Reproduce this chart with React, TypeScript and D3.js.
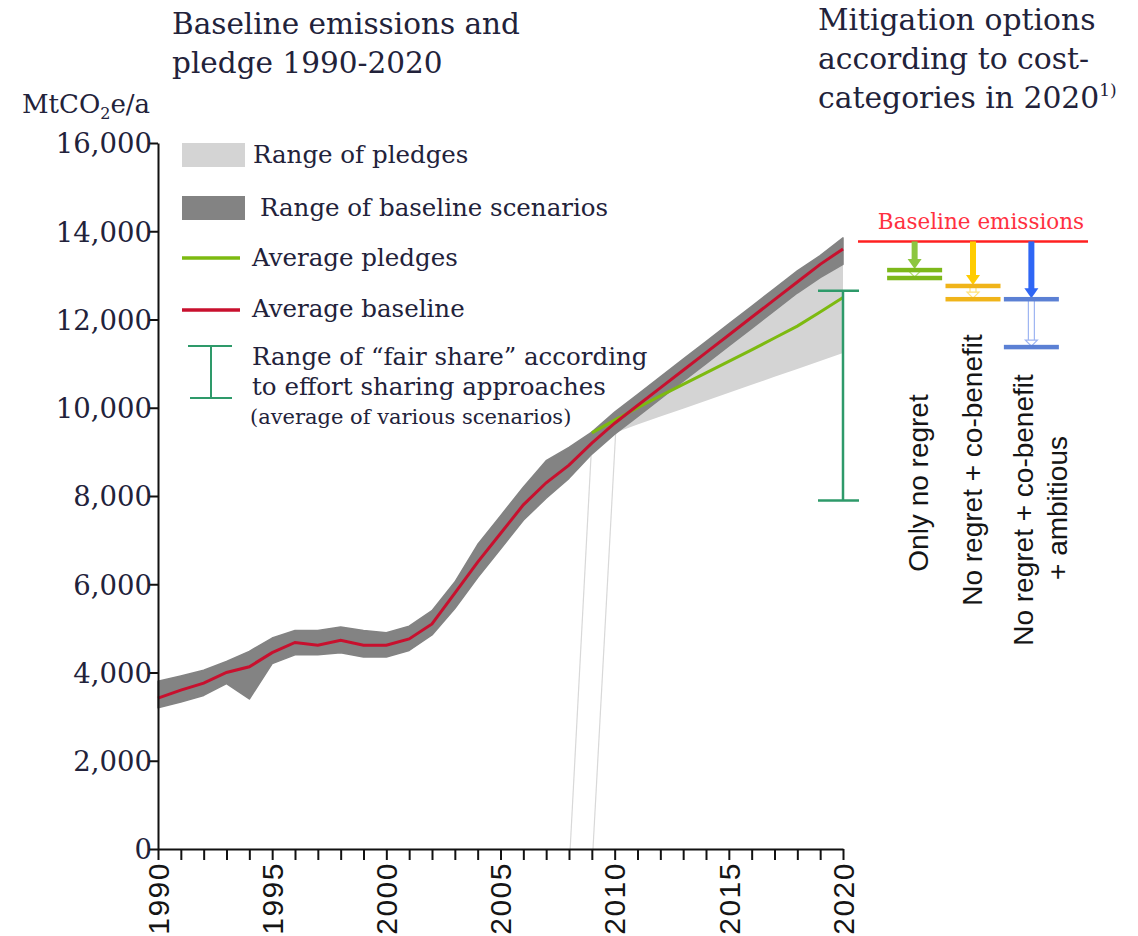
import React, { useEffect, useRef } from "react";
import * as d3 from "d3";

// years 1990-2020
const years = [
  1990, 1991, 1992, 1993, 1994, 1995, 1996, 1997, 1998, 1999, 2000, 2001, 2002,
  2003, 2004, 2005, 2006, 2007, 2008, 2009, 2010, 2011, 2012, 2013, 2014, 2015,
  2016, 2017, 2018, 2019, 2020,
];
const avgBaseline = [
  3420, 3600, 3760, 4000, 4130, 4450, 4680, 4620, 4730, 4620, 4620, 4760, 5100,
  5800, 6500, 7150, 7800, 8300, 8700, 9200, 9650, 10050, 10450, 10850, 11250,
  11650, 12050, 12450, 12850, 13250, 13600,
];
const baselineHigh = [
  3800, 3920, 4050, 4250, 4480, 4780, 4950, 4950, 5030, 4950, 4900, 5050, 5400,
  6050, 6900, 7550, 8200, 8800, 9100, 9450, 9900, 10300, 10700, 11100, 11500,
  11900, 12300, 12700, 13100, 13450, 13850,
];
const baselineLow = [
  3200, 3330, 3480, 3750, 3400, 4200, 4400, 4400, 4450, 4350, 4350, 4500, 4850,
  5450, 6150, 6800, 7450, 7950, 8400, 8950, 9400, 9800, 10200, 10600, 11000,
  11400, 11800, 12200, 12600, 12950, 13250,
];

// pledges 2009-2020
const pledgeYears = [2009, 2010, 2011, 2012, 2013, 2014, 2015, 2016, 2017, 2018, 2019, 2020];
const avgPledges = [9430, 9720, 10000, 10270, 10530, 10790, 11050, 11310, 11580, 11850, 12170, 12500];
const pledgeHigh = [9450, 9750, 10100, 10500, 10900, 11300, 11700, 12100, 12500, 12850, 13150, 13400];
const pledgeLow = [9380, 9430, 9620, 9800, 9980, 10160, 10340, 10520, 10700, 10880, 11060, 11240];

// "fair share" range in 2020
const fairShareYear = 2020;
const fairShareRange = [7900, 12650];

// thin leader lines [year, value]
const leaderLines = [
  [[2009.0, 9250], [2008.05, 0]],
  [[2010.05, 9500], [2009.05, 0]],
];

const yTicks = [0, 2000, 4000, 6000, 8000, 10000, 12000, 14000, 16000];
const xLabelYears = [1990, 1995, 2000, 2005, 2010, 2015, 2020];

// mitigation options in 2020
const baselineLevel2020 = 13770;
const options = ["only", "cobenefit", "ambitious"];
const optionBars = [
  [13120, 12940],
  [12760, 12460],
  [12460, 11375],
];
const optionColors = [
  { arrow: "#8cc63f", bar: "#7db81a", light: "#b5dc7a" },
  { arrow: "#ffcc00", bar: "#f0b419", light: "#ffe27a" },
  { arrow: "#2f66f5", bar: "#5b80d4", light: "#9db4f2" },
];
const optionLabels = [
  ["Only no regret"],
  ["No regret + co-benefit"],
  ["No regret + co-benefit", "+ ambitious"],
];

const SERIF = "'DejaVu Serif', serif";
const SANS = "'Liberation Sans', Arial, sans-serif";
const TXT = "#22223a";

const App = () => {
  const svgRef = useRef(null);

  useEffect(() => {
    const svg = d3.select(svgRef.current);
    svg.selectAll("*").remove();

    const x = d3.scaleLinear().domain([1990, 2020]).range([158, 843]);
    const y = d3.scaleLinear().domain([0, 16000]).range([849, 143]);

    // pledge range
    const pledgeArea = d3
      .area()
      .x((d, i) => x(pledgeYears[i]))
      .y0((d, i) => y(pledgeLow[i]))
      .y1((d, i) => y(pledgeHigh[i]));
    svg.append("path").attr("d", pledgeArea(pledgeYears)).attr("fill", "#d4d4d4");

    // leader lines
    leaderLines.forEach((l) => {
      svg
        .append("line")
        .attr("x1", x(l[0][0]))
        .attr("y1", y(l[0][1]))
        .attr("x2", x(l[1][0]))
        .attr("y2", y(l[1][1]))
        .attr("stroke", "#d8d8d8")
        .attr("stroke-width", 1.2);
    });

    // baseline range
    const baseArea = d3
      .area()
      .x((d, i) => x(years[i]))
      .y0((d, i) => y(baselineLow[i]))
      .y1((d, i) => y(baselineHigh[i]));
    svg
      .append("path")
      .attr("d", baseArea(years))
      .attr("fill", "#838383")
      .attr("stroke", "#838383")
      .attr("stroke-width", 1.5)
      .attr("stroke-linejoin", "round");

    // average pledges
    const pledgeLine = d3
      .line()
      .x((d, i) => x(pledgeYears[i]))
      .y((d) => y(d));
    svg
      .append("path")
      .attr("d", pledgeLine(avgPledges))
      .attr("fill", "none")
      .attr("stroke", "#7dba10")
      .attr("stroke-width", 3);

    // average baseline
    const baseLine = d3
      .line()
      .x((d, i) => x(years[i]))
      .y((d) => y(d));
    svg
      .append("path")
      .attr("d", baseLine(avgBaseline))
      .attr("fill", "none")
      .attr("stroke", "#c8102e")
      .attr("stroke-width", 3);

    // fair share range
    const fs = svg.append("g").attr("stroke", "#2e9a6a").attr("stroke-width", 2.5);
    fs.append("line")
      .attr("x1", x(fairShareYear))
      .attr("x2", x(fairShareYear))
      .attr("y1", y(fairShareRange[0]))
      .attr("y2", y(fairShareRange[1]));
    fairShareRange.forEach((v) => {
      fs.append("line")
        .attr("x1", x(fairShareYear) - 25)
        .attr("x2", x(fairShareYear) + 16)
        .attr("y1", y(v))
        .attr("y2", y(v));
    });

    // axes
    const yAxis = svg
      .append("g")
      .attr("transform", `translate(${x(1990)},0)`)
      .call(d3.axisLeft(y).tickValues(yTicks).tickSize(9).tickSizeOuter(0).tickFormat(d3.format(",")));
    yAxis.selectAll("line,path").attr("stroke", "#111").attr("stroke-width", 2);
    yAxis
      .selectAll("text")
      .attr("font-family", SERIF)
      .attr("font-size", 27.5)
      .attr("fill", TXT)
      .attr("x", -6)
      .attr("dy", "0.36em");

    const xAxis = svg
      .append("g")
      .attr("transform", `translate(0,${y(0)})`)
      .call(d3.axisBottom(x).tickValues(years).tickSize(11).tickSizeOuter(0).tickFormat(() => ""));
    xAxis.selectAll("line,path").attr("stroke", "#111").attr("stroke-width", 2);

    svg
      .append("g")
      .selectAll("text")
      .data(xLabelYears)
      .enter()
      .append("text")
      .attr("transform", (d) => `translate(${x(d)},${y(0) + 13}) rotate(-90)`)
      .attr("text-anchor", "end")
      .attr("dy", "0.36em")
      .attr("font-family", SANS)
      .attr("font-size", 30)
      .attr("letter-spacing", 1.5)
      .attr("fill", "#151515")
      .text((d) => d);

    // unit label
    const unit = svg
      .append("text")
      .attr("x", 22)
      .attr("y", 113)
      .attr("font-family", SERIF)
      .attr("font-size", 26)
      .attr("fill", TXT);
    unit.append("tspan").text("MtCO");
    unit.append("tspan").attr("font-size", 16).attr("dy", 6).text("2");
    unit.append("tspan").attr("dy", -6).text("e/a");

    // titles
    const titleLeft = ["Baseline emissions and", "pledge 1990-2020"];
    titleLeft.forEach((t, i) => {
      svg
        .append("text")
        .attr("x", 172)
        .attr("y", 34 + i * 39)
        .attr("font-family", SERIF)
        .attr("font-size", 29.5)
        .attr("fill", TXT)
        .text(t);
    });
    const titleRight = ["Mitigation options", "according to cost-", "categories in 2020"];
    titleRight.forEach((t, i) => {
      const tx = svg
        .append("text")
        .attr("x", 818)
        .attr("y", 30 + i * 39)
        .attr("font-family", SERIF)
        .attr("font-size", 29.8)
        .attr("fill", TXT)
        .text(t);
      if (i === 2) tx.append("tspan").attr("font-size", 17).attr("dy", -12).text("1)");
    });

    // legend
    const lg = svg.append("g").attr("font-family", SERIF).attr("fill", TXT);
    lg.append("rect").attr("x", 182).attr("y", 143).attr("width", 63).attr("height", 24).attr("fill", "#d4d4d4");
    lg.append("text").attr("x", 253).attr("y", 163).attr("font-size", 24.5).text("Range of pledges");
    lg.append("rect").attr("x", 182).attr("y", 196).attr("width", 63).attr("height", 24).attr("fill", "#838383");
    lg.append("text").attr("x", 260).attr("y", 216).attr("font-size", 24.5).text("Range of baseline scenarios");
    lg.append("line").attr("x1", 182).attr("x2", 240).attr("y1", 258).attr("y2", 258).attr("stroke", "#7dba10").attr("stroke-width", 3.5);
    lg.append("text").attr("x", 252).attr("y", 266).attr("font-size", 24.5).text("Average pledges");
    lg.append("line").attr("x1", 182).attr("x2", 240).attr("y1", 310).attr("y2", 310).attr("stroke", "#c8102e").attr("stroke-width", 3.5);
    lg.append("text").attr("x", 252).attr("y", 317).attr("font-size", 24.5).text("Average baseline");
    const li = lg.append("g").attr("stroke", "#2e9a6a").attr("stroke-width", 2);
    li.append("line").attr("x1", 211).attr("x2", 211).attr("y1", 346).attr("y2", 398);
    li.append("line").attr("x1", 188).attr("x2", 232).attr("y1", 346).attr("y2", 346);
    li.append("line").attr("x1", 190).attr("x2", 232).attr("y1", 398).attr("y2", 398);
    lg.append("text").attr("x", 252).attr("y", 365).attr("font-size", 24.5).text("Range of \u201cfair share\u201d according");
    lg.append("text").attr("x", 252).attr("y", 395).attr("font-size", 24.5).text("to effort sharing approaches");
    lg.append("text").attr("x", 250).attr("y", 424).attr("font-size", 21).text("(average of various scenarios)");

    // mitigation panel
    const band = d3.scaleBand().domain(options).range([858, 1088]).paddingOuter(0.47).paddingInner(0);
    const yb = y(baselineLevel2020);
    svg
      .append("line")
      .attr("x1", 858)
      .attr("x2", 1088)
      .attr("y1", yb)
      .attr("y2", yb)
      .attr("stroke", "#ff2020")
      .attr("stroke-width", 2.5);
    svg
      .append("text")
      .attr("x", 981)
      .attr("y", 229)
      .attr("text-anchor", "middle")
      .attr("font-family", SERIF)
      .attr("font-size", 21.5)
      .attr("fill", "#ff3040")
      .text("Baseline emissions");

    options.forEach((o, i) => {
      const cx = band(o) + band.bandwidth() / 2;
      const c = optionColors[i];
      const y1 = y(optionBars[i][0]);
      const y2 = y(optionBars[i][1]);
      const g = svg.append("g");
      // solid arrow
      g.append("line")
        .attr("x1", cx)
        .attr("x2", cx)
        .attr("y1", yb)
        .attr("y2", y1 - 9)
        .attr("stroke", c.arrow)
        .attr("stroke-width", 6);
      g.append("path")
        .attr("d", `M${cx - 7},${y1 - 11}L${cx + 7},${y1 - 11}L${cx},${y1 - 1}Z`)
        .attr("fill", c.arrow);
      // hollow arrow
      [-3, 3].forEach((dx) => {
        g.append("line")
          .attr("x1", cx + dx)
          .attr("x2", cx + dx)
          .attr("y1", y1)
          .attr("y2", y2 - 5)
          .attr("stroke", c.light)
          .attr("stroke-width", 1.2);
      });
      g.append("path")
        .attr("d", `M${cx - 6},${y2 - 7}L${cx + 6},${y2 - 7}L${cx},${y2 - 1}Z`)
        .attr("fill", "white")
        .attr("stroke", c.light)
        .attr("stroke-width", 1.2);
      [y1, y2].forEach((yy) => {
        g.append("rect")
          .attr("x", cx - 27.5)
          .attr("y", yy - 2.25)
          .attr("width", 55)
          .attr("height", 4.5)
          .attr("fill", c.bar);
      });
    });

    // rotated option labels
    const labelPos = [
      [[918, 483]],
      [[972, 470]],
      [[1023, 510], [1057, 508]],
    ];
    optionLabels.forEach((lines, i) => {
      lines.forEach((t, j) => {
        const p = labelPos[i][j];
        svg
          .append("text")
          .attr("transform", `translate(${p[0]},${p[1]}) rotate(-90)`)
          .attr("text-anchor", "middle")
          .attr("dy", "0.35em")
          .attr("font-family", SANS)
          .attr("font-size", 28)
          .attr("fill", "#151515")
          .text(t);
      });
    });
  }, []);

  return (
    <div>
      <style>{"body{margin:0;background:#fff}"}</style>
      <svg ref={svgRef} width={1138} height={936} />
    </div>
  );
};

export default App;
